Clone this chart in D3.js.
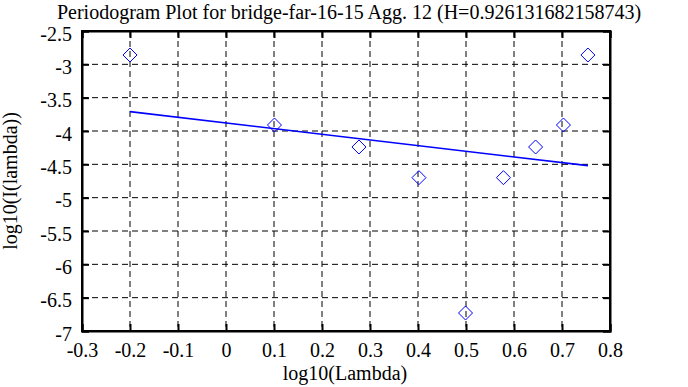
<!DOCTYPE html>
<html><head><meta charset="utf-8">
<script src="https://cdn.jsdelivr.net/npm/d3@7"></script>
<style>body{margin:0;background:#fff}svg{display:block}</style>
</head><body>
<svg id="c" width="688" height="387"></svg>
<script>
const titleText = "Periodogram Plot for bridge-far-16-15 Agg. 12 (H=0.926131682158743)";
const xLabel = "log10(Lambda)";
const yLabel = "log10(I(lambda))";
const pointsX = [-0.2, 0.101, 0.277, 0.402, 0.499, 0.578, 0.645, 0.703, 0.754];
const pointsY = [-2.86, -3.91, -4.24, -4.70, -6.73, -4.70, -4.24, -3.91, -2.86];
const fitX = [-0.2, 0.754];
const fitY = [-3.71, -4.52];
const xTicks = [-0.3, -0.2, -0.1, 0, 0.1, 0.2, 0.3, 0.4, 0.5, 0.6, 0.7, 0.8];
const yTicks = [-7, -6.5, -6, -5.5, -5, -4.5, -4, -3.5, -3, -2.5];

const L = 82, R = 610, T = 31, B = 331;
const FS = 20;
const FF = "Liberation Serif";
const svg = d3.select("#c");
const x = d3.scaleLinear().domain([-0.3, 0.8]).range([L, R]);
const y = d3.scaleLinear().domain([-7, -2.5]).range([B, T]);

// grid
const g = svg.append("g");
g.selectAll(".vg").data(xTicks.slice(1, -1)).enter().append("line")
  .attr("x1", d => x(d)).attr("x2", d => x(d)).attr("y1", T).attr("y2", B)
  .attr("stroke", "#000").attr("stroke-width", 1).attr("stroke-dasharray", "6,4");
g.selectAll(".hg").data(yTicks.slice(1, -1)).enter().append("line")
  .attr("y1", d => y(d)).attr("y2", d => y(d)).attr("x1", L).attr("x2", R)
  .attr("stroke", "#000").attr("stroke-width", 1).attr("stroke-dasharray", "6,4");

// axes
const fmt = d => String(d);
const xb = svg.append("g").attr("transform", `translate(0,${B})`)
  .call(d3.axisBottom(x).tickValues(xTicks).tickFormat(fmt).tickSize(-7).tickPadding(12));
const xt = svg.append("g").attr("transform", `translate(0,${T})`)
  .call(d3.axisTop(x).tickValues(xTicks).tickFormat("").tickSize(-7));
const yl = svg.append("g").attr("transform", `translate(${L},0)`)
  .call(d3.axisLeft(y).tickValues(yTicks).tickFormat(fmt).tickSize(-7).tickPadding(10));
const yr = svg.append("g").attr("transform", `translate(${R},0)`)
  .call(d3.axisRight(y).tickValues(yTicks).tickFormat("").tickSize(-7));
[xb, xt, yl, yr].forEach(a => {
  a.attr("font-family", FF).attr("font-size", FS);
  a.select(".domain").attr("stroke", "#000").attr("stroke-width", 2);
  a.selectAll(".tick line").attr("stroke", "#000").attr("stroke-width", 2);
  a.selectAll(".tick text").attr("font-family", FF).attr("font-size", FS).attr("fill", "#000");
});
yl.selectAll(".tick text").attr("dy", "0.45em");
svg.append("rect").attr("x", L).attr("y", T).attr("width", R - L).attr("height", B - T)
  .attr("fill", "none").attr("stroke", "#000").attr("stroke-width", 2);

// fit line
svg.append("line").attr("x1", x(fitX[0])).attr("y1", y(fitY[0]))
  .attr("x2", x(fitX[1])).attr("y2", y(fitY[1]))
  .attr("stroke", "#0000ff").attr("stroke-width", 1.6);

// points
const pts = pointsX.map((v, i) => [v, pointsY[i]]);
svg.selectAll(".pt").data(pts).enter().append("path")
  .attr("d", d => { const cx = x(d[0]), cy = y(d[1]), r = 7;
    return `M${cx},${cy - r}L${cx + r},${cy}L${cx},${cy + r}L${cx - r},${cy}Z`; })
  .attr("fill", "none").attr("stroke", "#0000ff").attr("stroke-width", 1);

// labels
svg.append("text").attr("x", 349).attr("y", 19).attr("text-anchor", "middle")
  .attr("font-family", FF).attr("font-size", FS).text(titleText);
svg.append("text").attr("x", 345).attr("y", 380).attr("text-anchor", "middle")
  .attr("font-family", FF).attr("font-size", FS).text(xLabel);
svg.append("text").attr("transform", "translate(17,181) rotate(-90)").attr("text-anchor", "middle")
  .attr("font-family", FF).attr("font-size", FS).text(yLabel);
</script>
</body></html>
